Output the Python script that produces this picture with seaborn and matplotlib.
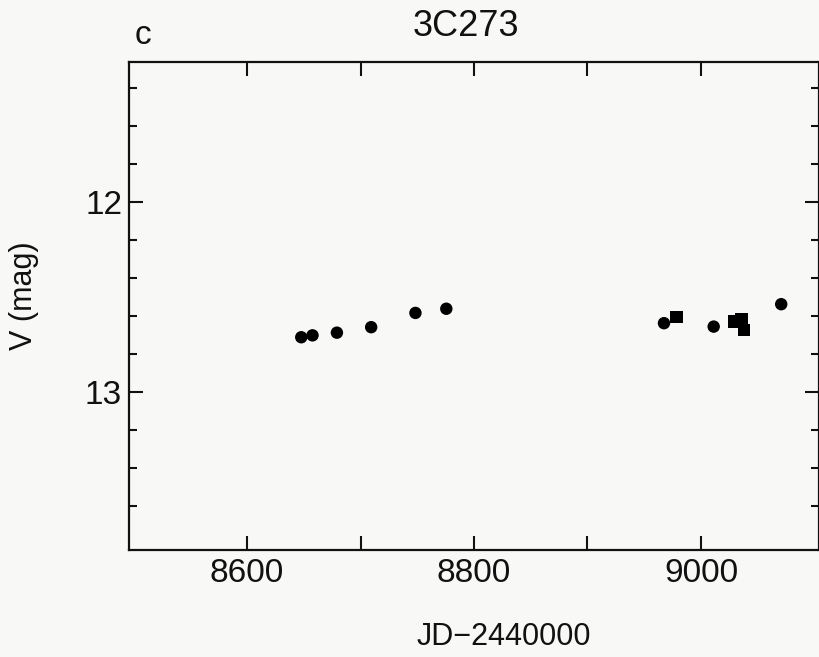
import numpy as np
import pandas as pd
import matplotlib
matplotlib.use("Agg")
import matplotlib.pyplot as plt
from matplotlib.ticker import FixedLocator
import seaborn as sns

# 3C273 V-band light curve (panel c)
jd_circle = [8647.8, 8657.7, 8679.2, 8709.4, 8748.4, 8775.6, 8967.4, 9011.2, 9070.7]
v_circle = [12.712, 12.702, 12.688, 12.659, 12.584, 12.562, 12.638, 12.656, 12.538]
jd_square = [8978.4, 9029.0, 9035.6, 9037.8]
v_square = [12.604, 12.630, 12.617, 12.674]

x_ticks = [8600, 8800, 9000]
x_minor = [8700, 8900]
y_ticks = [12, 13]
y_minor = [11.4, 11.6, 11.8, 12.2, 12.4, 12.6, 12.8, 13.2, 13.4, 13.6]

sns.set_style("ticks")
plt.rcParams['font.family'] = ['Liberation Sans', 'DejaVu Sans']

df = pd.DataFrame({
    'jd': jd_circle + jd_square,
    'v': v_circle + v_square,
    'kind': ['circle'] * len(jd_circle) + ['square'] * len(jd_square),
})

fig = plt.figure(figsize=(8.19, 6.57), dpi=100)
fig.patch.set_facecolor('#f8f8f6')
ax = fig.add_axes([0.1575, 0.1629, 0.8425, 0.7427])
ax.set_facecolor('#f8f8f6')

sns.scatterplot(data=df, x='jd', y='v', style='kind',
                markers={'circle': 'o', 'square': 's'},
                color='black', s=80, edgecolor='black', linewidth=0,
                legend=False, ax=ax)

ax.set_xlim(8496, 9104)
ax.set_ylim(13.832, 11.263)
ax.set_xticks(x_ticks)
ax.set_yticks(y_ticks)
ax.xaxis.set_minor_locator(FixedLocator(x_minor))
ax.yaxis.set_minor_locator(FixedLocator(y_minor))

ax.tick_params(axis='both', which='both', direction='in', top=True, right=True,
               width=1.5, color='#111111', labelsize=24, labelcolor='#111111')
ax.tick_params(axis='y', which='major', length=10, pad=5)
ax.tick_params(axis='y', which='minor', length=6)
ax.tick_params(axis='x', which='major', length=10, pad=6)
ax.tick_params(axis='x', which='minor', length=10)

for sp in ax.spines.values():
    sp.set_visible(True)
    sp.set_linewidth(1.6)
    sp.set_color('#111111')

ax.set_xlabel('')
ax.set_ylabel('')

fig.text(466 / 819, 1 - 27 / 657, '3C273', ha='center', va='center',
         fontsize=26, color='#111111')
fig.text(143 / 819, 1 - 36 / 657, 'c', ha='center', va='center',
         fontsize=24, color='#111111')
fig.text(504 / 819, 1 - 637 / 657, 'JD\u22122440000', ha='center', va='center',
         fontsize=22, color='#111111')
fig.text(24 / 819, 1 - 296 / 657, 'V (mag)', ha='center', va='center',
         rotation=90, fontsize=22, color='#111111')

fig.savefig('out.png', dpi=100, facecolor=fig.get_facecolor())
